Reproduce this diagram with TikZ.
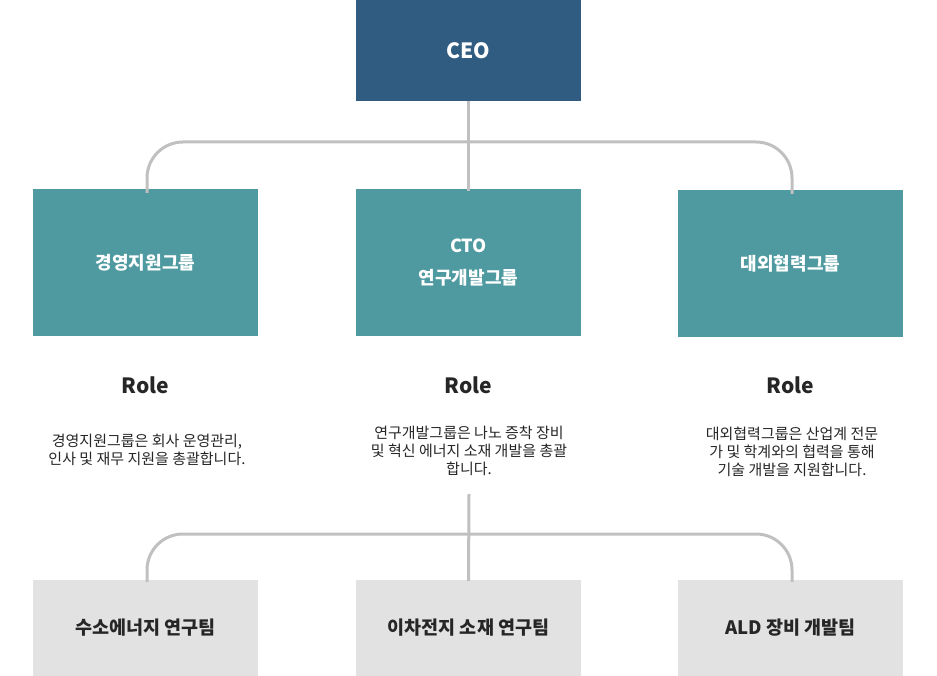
\documentclass[tikz,border=0pt]{standalone}
\usepackage{fontspec}
\setmainfont{Noto Sans CJK KR}
\usepackage{tikz}
\usetikzlibrary{positioning, calc}
\definecolor{ceoblue}{HTML}{2F5C80}
\definecolor{groupteal}{HTML}{4F9AA0}
\definecolor{teamgray}{HTML}{E2E2E2}
\definecolor{linegray}{HTML}{C0C0C0}

\begin{document}
\begin{tikzpicture}[
  x=1pt, y=-1pt,
  head/.style={
    fill=ceoblue, minimum width=225pt, minimum height=101pt,
    text=white, font=\fontsize{21}{24}\selectfont\bfseries, inner sep=0pt
  },
  group/.style={
    fill=groupteal, minimum width=225pt, minimum height=147pt,
    text=white, font=\fontsize{18}{32}\selectfont\bfseries, align=center, inner sep=0pt
  },
  team/.style={
    fill=teamgray, minimum width=225pt, minimum height=96pt,
    text=black!85, font=\fontsize{18.5}{22}\selectfont\bfseries, inner sep=0pt
  },
  role/.style={font=\fontsize{21}{24}\selectfont\bfseries, text=black!85},
  desc/.style={
    font=\fontsize{15}{18}\selectfont, text=black!85, align=center,
    anchor=north, inner sep=0pt
  },
  link/.style={linegray, line width=3pt, rounded corners=36pt}
]
\useasboundingbox (0,0) rectangle (937,676);

% CEO
\node[head] (ceo) at (468.5,50.5) {CEO};

% Groups
\node[group] (mgmt) at (145.5,262.5) {경영지원그룹};
\node[group] (cto) at (468.5,262.5) {CTO\\연구개발그룹};
\node[group] (ext) at (790.5,263.5) {대외협력그룹};

% Roles
\node[role] (mgmtrole) at (145.5,385) {Role};
\node[role] (ctorole) at (468.5,385) {Role};
\node[role] (extrole) at (790.5,385) {Role};

\node[desc] (mgmtdesc) at (147,434) {경영지원그룹은 회사 운영관리,\\인사 및 재무 지원을 총괄합니다.};
\node[desc] (ctodesc) at (469,426) {연구개발그룹은 나노 증착 장비\\및 혁신 에너지 소재 개발을 총괄\\합니다.};
\node[desc] (extdesc) at (792,427) {대외협력그룹은 산업계 전문\\가 및 학계와의 협력을 통해\\기술 개발을 지원합니다.};

% Teams
\node[team] (team1) at (145.5,628) {수소에너지 연구팀};
\node[team] (team2) at (468.5,628) {이차전지 소재 연구팀};
\node[team] (team3) at (790.5,628) {ALD 장비 개발팀};

% CEO to groups
\coordinate (hubtop) at (469,142);
\draw[link] (ceo.south) -- ([yshift=-2pt]cto.north);
\draw[link] ([xshift=1.5pt,yshift=-4pt]mgmt.north) |- (hubtop) -| ([xshift=1.5pt,yshift=-4pt]ext.north);

% CTO group to teams
\coordinate (hubbot) at (469,534);
\draw[link] ([yshift=-18pt]ctodesc.south) -- ([yshift=-1pt]team2.north);
\draw[link] ([xshift=1.5pt,yshift=-2pt]team1.north) |- (hubbot) -| ([xshift=1.5pt,yshift=-2pt]team3.north);

\end{tikzpicture}
\end{document}
